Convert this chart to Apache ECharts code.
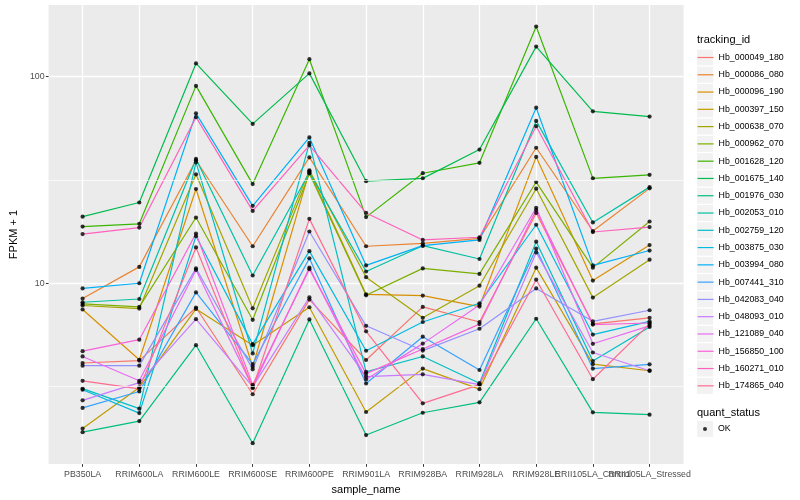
<!DOCTYPE html>
<html><head><meta charset="utf-8">
<script src="https://cdn.jsdelivr.net/npm/echarts@6/dist/echarts.min.js"></script>
<style>html,body{margin:0;padding:0;background:#fff}#c{width:800px;height:500px}</style>
</head><body><div id="c"></div>
<script>
// ---- data ----
const categories = ['PB350LA','RRIM600LA','RRIM600LE','RRIM600SE','RRIM600PE','RRIM901LA','RRIM928BA','RRIM928LA','RRIM928LE','RRII105LA_Control','RRII105LA_Stressed'];
const trackingIds = ['Hb_000049_180','Hb_000086_080','Hb_000096_190','Hb_000397_150','Hb_000638_070','Hb_000962_070','Hb_001628_120','Hb_001675_140','Hb_001976_030','Hb_002053_010','Hb_002759_120','Hb_003875_030','Hb_003994_080','Hb_007441_310','Hb_042083_040','Hb_048093_010','Hb_121089_040','Hb_156850_100','Hb_160271_010','Hb_174865_040'];
const quantStatus = ['OK'];
const yTickValues = [10, 100];
const yMinorGrid = [3.1623, 31.623];

const hb_000049_180 = [4.11, 4.22, 7.63, 2.90, 8.33, 4.25, 7.68, 6.49, 21.9, 6.36, 6.80];
const hb_000086_080 = [8.43, 12.0, 39.4, 15.1, 40.7, 15.1, 15.6, 16.5, 45.3, 17.9, 28.8];
const hb_000096_190 = [7.46, 4.26, 28.6, 3.94, 34.8, 8.84, 8.71, 7.71, 40.9, 10.3, 15.3];
const hb_000397_150 = [1.98, 3.13, 7.51, 5.01, 7.65, 2.38, 3.86, 3.07, 11.9, 4.06, 3.77];
const hb_000638_070 = [7.80, 7.54, 33.7, 7.56, 35.2, 10.7, 6.80, 9.73, 28.7, 8.52, 13.0];
const hb_000962_070 = [7.94, 7.68, 20.8, 6.65, 34.0, 8.74, 11.8, 11.1, 30.9, 11.9, 19.9];
const hb_001628_120 = [18.8, 19.4, 90.3, 30.2, 121.6, 20.9, 34.1, 38.3, 175.1, 32.2, 33.5];
const hb_001675_140 = [21.0, 24.6, 116, 59.1, 103.8, 31.2, 32.2, 44.4, 139.9, 68.0, 64.1];
const hb_001976_030 = [1.90, 2.15, 5.01, 1.68, 6.68, 1.84, 2.36, 2.65, 6.73, 2.37, 2.31];
const hb_002053_010 = [8.09, 8.39, 40.0, 10.9, 34.4, 11.4, 15.2, 13.1, 61.1, 19.7, 29.2];
const hb_002759_120 = [3.09, 2.47, 38.5, 4.57, 47.8, 3.72, 4.42, 3.28, 15.9, 4.20, 6.14];
const hb_003875_030 = [3.05, 2.35, 16.9, 5.07, 14.3, 4.71, 6.49, 8.00, 19.2, 5.64, 6.54];
const hb_003994_080 = [9.44, 10.0, 66.5, 23.7, 50.8, 12.2, 15.2, 16.2, 70.8, 12.2, 14.4];
const hb_007441_310 = [2.49, 2.99, 9.03, 4.06, 13.2, 3.27, 5.51, 3.80, 14.7, 3.86, 4.05];
const hb_042083_040 = [3.99, 3.99, 11.8, 3.83, 17.8, 6.22, 4.72, 6.02, 9.44, 6.54, 7.40];
const hb_048093_010 = [2.71, 3.30, 6.70, 3.16, 8.55, 3.53, 3.62, 3.23, 14.1, 4.62, 3.77];
const hb_121089_040 = [4.42, 3.37, 11.6, 3.14, 11.9, 3.42, 5.10, 7.85, 23.2, 5.09, 6.22];
const hb_156850_100 = [4.69, 5.33, 17.4, 3.22, 11.7, 3.65, 4.80, 6.34, 22.6, 6.31, 6.42];
const hb_160271_010 = [17.3, 18.6, 63.7, 22.4, 46.5, 21.9, 16.2, 16.7, 57.6, 17.7, 18.7];
const hb_174865_040 = [3.37, 3.08, 14.9, 3.10, 20.5, 5.85, 2.62, 3.23, 10.4, 3.43, 6.36];

const seriesValues = [hb_000049_180, hb_000086_080, hb_000096_190, hb_000397_150, hb_000638_070, hb_000962_070, hb_001628_120, hb_001675_140, hb_001976_030, hb_002053_010, hb_002759_120, hb_003875_030, hb_003994_080, hb_007441_310, hb_042083_040, hb_048093_010, hb_121089_040, hb_156850_100, hb_160271_010, hb_174865_040];

// ---- style ----
const colors = ['#F8766D','#EA8331','#D89000','#C09B00','#A3A500','#7CAE00','#39B600','#00BB4E','#00BF7D','#00C1A3','#00BFC4','#00BAE0','#00B0F6','#35A2FF','#9590FF','#C77CFF','#E76BF3','#FA62DB','#FF62BC','#FF6C91'];
const FONT = '"Liberation Sans", Arial, Helvetica, sans-serif';
const xIdx = categories.map((c, i) => i);
// overlapping neighbour labels are split over two coincident axes so none is dropped
const xIdxEven = xIdx.filter(i => i % 2 === 0);
const xIdxOdd = xIdx.filter(i => i % 2 === 1);

const chart = echarts.init(document.getElementById('c'), null, {renderer: 'canvas'});

const lineSeries = trackingIds.map((id, k) => ({
  type: 'line', name: id,
  data: seriesValues[k].map((v, i) => [i, v]),
  symbol: 'none', silent: true, z: 2,
  lineStyle: {color: colors[k], width: 1.2},
  itemStyle: {color: colors[k]}
}));

const pointData = [];
seriesValues.forEach(arr => arr.forEach((v, i) => pointData.push([i, v])));

const legendCommon = {
  orient: 'vertical', left: 697, top: 49.5, padding: 0,
  itemWidth: 16, itemHeight: 16, itemGap: 1.28, selectedMode: false
};

const labelStyle = {formatter: v => categories[Math.round(v)], fontFamily: FONT, fontSize: 8.8, color: '#4D4D4D', margin: 6,
  hideOverlap: false, showMinLabel: true, showMaxLabel: true};

const option = {
  animation: false,
  backgroundColor: '#ffffff',
  textStyle: {fontFamily: FONT},
  title: [
    {text: 'tracking_id', left: 697, top: 34, padding: 0, textStyle: {fontFamily: FONT, fontSize: 11, fontWeight: 'normal', color: '#000'}},
    {text: 'quant_status', left: 697, top: 407, padding: 0, textStyle: {fontFamily: FONT, fontSize: 11, fontWeight: 'normal', color: '#000'}}
  ],
  grid: {left: 40, top: 5, width: 643.6, height: 463.3, show: true, backgroundColor: '#EBEBEB', borderWidth: 0, containLabel: false},
  legend: [
    Object.assign({}, legendCommon, {
      data: trackingIds, z: 5, top: 51.1, itemGap: 4.48,
      itemStyle: {opacity: 0},
      lineStyle: {width: 1.2},
      textStyle: {fontFamily: FONT, fontSize: 8.8, color: '#000'}
    }),
    Object.assign({}, legendCommon, {
      data: trackingIds, z: 4, icon: 'rect',
      itemStyle: {color: '#F2F2F2', borderWidth: 0, opacity: 1},
      formatter: () => '',
      textStyle: {color: 'rgba(0,0,0,0)'}
    }),
    Object.assign({}, legendCommon, {
      data: quantStatus, top: 421, z: 5,
      icon: 'path://M0,0M16,16M6,8a2,2,0,1,0,4,0a2,2,0,1,0,-4,0z',
      itemStyle: {color: '#000', borderWidth: 0},
      textStyle: {fontFamily: FONT, fontSize: 8.8, color: '#000'}
    }),
    Object.assign({}, legendCommon, {
      data: quantStatus, top: 421, z: 4, icon: 'rect',
      itemStyle: {color: '#F2F2F2', borderWidth: 0, opacity: 1},
      formatter: () => '',
      textStyle: {color: 'rgba(0,0,0,0)'}
    })
  ],
  xAxis: [
    {
      type: 'value', min: -0.6, max: 10.6, position: 'bottom',
      name: 'sample_name', nameLocation: 'middle', nameGap: 15,
      nameTextStyle: {fontFamily: FONT, fontSize: 11, color: '#000'},
      axisLine: {show: false, onZero: false},
      axisTick: {show: true, length: 2.7, customValues: xIdx, lineStyle: {color: '#333333', width: 1}},
      axisLabel: Object.assign({customValues: xIdxEven}, labelStyle),
      splitLine: {show: true, lineStyle: {color: '#ffffff', width: 1.3}}
    },
    {
      type: 'value', min: -0.6, max: 10.6, position: 'bottom', offset: 0,
      axisLine: {show: false, onZero: false},
      axisTick: {show: false, customValues: xIdxOdd},
      axisLabel: Object.assign({customValues: xIdxOdd}, labelStyle),
      splitLine: {show: false}
    }
  ],
  yAxis: {
    type: 'log', logBase: 10, min: 1.331, max: 222.5,
    name: 'FPKM + 1', nameLocation: 'middle', nameGap: 21,
    nameTextStyle: {fontFamily: FONT, fontSize: 11, color: '#000'},
    axisLine: {show: false, onZero: false},
    axisTick: {show: true, length: 2.7, customValues: yTickValues, lineStyle: {color: '#333333', width: 1}},
    axisLabel: {customValues: yTickValues, fontFamily: FONT, fontSize: 8.8, color: '#4D4D4D', margin: 4},
    splitLine: {show: true, lineStyle: {color: '#ffffff', width: 1.3}},
    minorTick: {show: false}, minorSplitLine: {show: false}
  },
  series: [
    {
      type: 'line', name: '__minor', data: [], z: 1, silent: true,
      markLine: {
        silent: true, symbol: ['none', 'none'], label: {show: false},
        lineStyle: {color: '#ffffff', width: 0.7, type: 'solid'},
        emphasis: {disabled: true},
        data: yMinorGrid.map(v => ({yAxis: v}))
      }
    }
  ].concat(lineSeries).concat([
    {
      type: 'scatter', name: 'OK', data: pointData, z: 3, silent: true,
      symbol: 'circle', symbolSize: 4.2, itemStyle: {color: '#000000'}
    }
  ])
};
chart.setOption(option);
</script>
</body></html>
